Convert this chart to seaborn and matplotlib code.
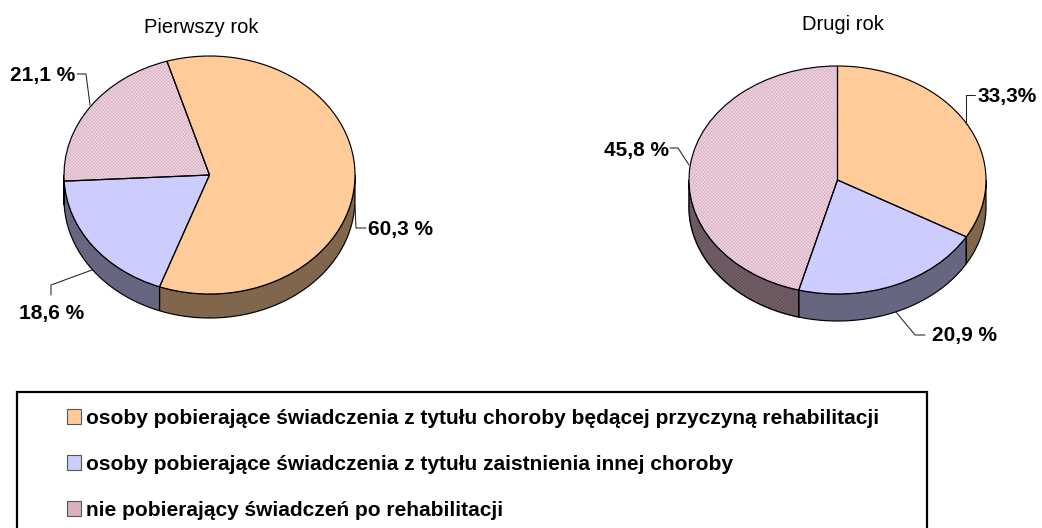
import numpy as np
import matplotlib
matplotlib.use("Agg")
import matplotlib.pyplot as plt
from matplotlib.lines import Line2D
from matplotlib.patches import Patch, Rectangle
import seaborn as sns

sns.set_style("white")
plt.rcParams["font.family"] = ["Liberation Sans", "DejaVu Sans"]
plt.rcParams["hatch.linewidth"] = 0.3

W, H = 1042, 528
categories = [
    "osoby pobierające świadczenia z tytułu choroby będącej przyczyną rehabilitacji",
    "osoby pobierające świadczenia z tytułu zaistnienia innej choroby",
    "nie pobierający świadczeń po rehabilitacji",
]
first_year = [60.3, 18.6, 21.1]
second_year = [33.3, 20.9, 45.8]
first_labels = ["60,3 %", "18,6 %", "21,1 %"]
second_labels = ["33,3%", "20,9 %", "45,8 %"]
top_colors = ["#FFCC99", "#CCCCFF", "#F0D4E2"]
side_colors = ["#80664D", "#666680", "#75626B"]
hatches = [None, None, "xxxxxxxxxx"]
hatch_colors = ["none", "none", "#D0A8BC"]
side_hatch_colors = ["none", "none", "#5C4A52"]

fig = plt.figure(figsize=(W / 100, H / 100), dpi=100)


def fx(x):
    return x / W


def fy(y):
    return 1 - y / H


def draw_pie(values, box, depth, start):
    x0, y0, x1, y1 = box
    ax = fig.add_axes([fx(x0), fy(y1), fx(x1 - x0), (y1 - y0) / H])
    d = depth / ((y1 - y0) / 2)
    wedges, _ = ax.pie(values, startangle=start, counterclock=False, radius=1,
                       colors=top_colors, wedgeprops={"linewidth": 0, "clip_on": False, "zorder": 3})
    for w, h, hc in zip(wedges, hatches, hatch_colors):
        if h:
            w.set_hatch(h)
            w.set_edgecolor(hc)
    ax.pie(values, startangle=start, counterclock=False, radius=1, colors=["none"] * 3,
           wedgeprops={"linewidth": 0.85, "edgecolor": "black", "clip_on": False, "zorder": 4})
    for i, w in enumerate(wedges):
        for k in (-360, 0, 360):
            lo, hi = max(w.theta1, 180 + k), min(w.theta2, 360 + k)
            if hi <= lo:
                continue
            t = np.radians(np.linspace(lo, hi, 120))
            xs = np.r_[np.cos(t), np.cos(t[::-1])]
            ys = np.r_[np.sin(t), np.sin(t[::-1]) - d]
            ax.fill(xs, ys, facecolor=side_colors[i], edgecolor="none", clip_on=False, zorder=1,
                    hatch=hatches[i] if hatches[i] else None)
            if hatches[i]:
                ax.patches[-1].set_edgecolor(side_hatch_colors[i])
            ax.fill(xs, ys, facecolor="none", edgecolor="black", linewidth=0.85, clip_on=False, zorder=2)
    ax.set_aspect("auto")
    ax.set_xlim(-1, 1)
    ax.set_ylim(-1, 1)
    ax.set_axis_off()
    return ax


draw_pie(first_year, (64, 56, 355, 294), 24, 107)
draw_pie(second_year, (689, 66, 986, 294), 27, 90)

leaders = [
    [(355, 205), (356, 228), (366, 228)],
    [(92, 270), (51, 285), (51, 295)],
    [(90, 105), (86, 74), (77, 74)],
    [(966, 124), (966, 95), (975, 95)],
    [(896, 312), (915, 335), (925, 335)],
    [(689, 165), (678, 148), (670, 148)],
]
for pts in leaders:
    xs, ys = zip(*pts)
    fig.add_artist(Line2D([fx(x) for x in xs], [fy(y) for y in ys], color="#222222", lw=0.75,
                          transform=fig.transFigure))

label_pos = [(401, 229), (52, 314), (43, 75), (1007.5, 96), (964, 336), (637, 150)]
for txt, (x, y) in zip(first_labels + second_labels, label_pos):
    fig.text(fx(x), fy(y), txt, ha="center", va="center", fontsize=15, fontweight="bold", color="black")

fig.text(fx(201), fy(33), "Pierwszy rok", ha="center", va="baseline", fontsize=14.5, color="black")
fig.text(fx(843), fy(30), "Drugi rok", ha="center", va="baseline", fontsize=14.5, color="black")

fig.add_artist(Rectangle((fx(17), fy(560)), fx(910), (560 - 392) / H, facecolor="none", edgecolor="black",
                         lw=1.6, transform=fig.transFigure))
legend_colors = ["#FFCC99", "#CCCCFF", "#D8B0C0"]
handles = [Patch(facecolor=c, edgecolor="#555555", lw=0.8) for c in legend_colors]
fig.legend(handles, categories, loc="upper left", bbox_to_anchor=(fx(67), fy(409)), bbox_transform=fig.transFigure,
           frameon=False, borderpad=0, borderaxespad=0, handlelength=0.68, handleheight=0.68, handletextpad=0.25,
           labelspacing=1.29, labelcolor="black", prop={"size": 15.05, "weight": "bold"})

fig.savefig("out.png", dpi=100, facecolor="white")
